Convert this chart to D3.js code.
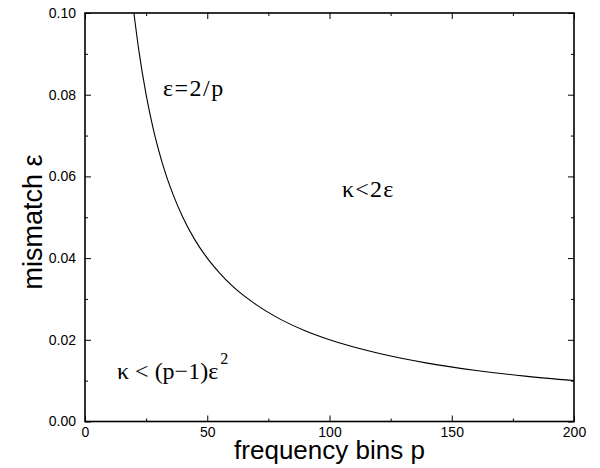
<!DOCTYPE html>
<html>
<head>
<meta charset="utf-8">
<script src="https://cdn.jsdelivr.net/npm/d3@7"></script>
<style>
  body { margin: 0; background: #fff; }
  svg { display: block; }
</style>
</head>
<body>
<div id="chart"></div>
<script>
// values
const pValues = [20, 22, 25, 28, 30, 33, 36, 40, 45, 50, 55, 60, 70, 80, 90, 100, 120, 140, 160, 180, 200];
const epsValues = [0.1, 0.0909, 0.08, 0.0714, 0.0667, 0.0606, 0.0556, 0.05, 0.0444, 0.04, 0.0364, 0.0333,
  0.0286, 0.025, 0.0222, 0.02, 0.0167, 0.0143, 0.0125, 0.0111, 0.01];
const xMajor = [0, 50, 100, 150, 200];
const xMinor = [25, 75, 125, 175];
const yMajor = [0, 0.02, 0.04, 0.06, 0.08, 0.1];
const yMinor = [0.01, 0.03, 0.05, 0.07, 0.09];

const width = 600, height = 468;
const margins = { top: 13, right: 26, bottom: 46.5, left: 85 };

const svg = d3.select("#chart").append("svg")
  .attr("width", width)
  .attr("height", height);

const x = d3.scaleLinear().domain([0, 200])
  .range([margins.left, width - margins.right]);
const y = d3.scaleLinear().domain([0, 0.1])
  .range([height - margins.bottom, margins.top]);

const fmt = d3.format(".2f");
const sans = "'Liberation Sans', Arial, sans-serif";
const serif = "'Liberation Serif', 'Times New Roman', serif";

// axes with inward ticks, mirrored on top and right
function ticks(axis, vals, size) {
  return axis.tickValues(vals).tickSizeInner(-size).tickSizeOuter(0).tickFormat("");
}

const g = svg.append("g");

g.append("g").attr("transform", `translate(0,${y(0)})`)
  .call(ticks(d3.axisBottom(x), xMinor, 3));
g.append("g").attr("transform", `translate(0,${y(0)})`)
  .call(ticks(d3.axisBottom(x), xMajor, 6).tickPadding(6).tickFormat(d3.format("d")));
g.append("g").attr("transform", `translate(0,${y(0.1)})`)
  .call(ticks(d3.axisTop(x), xMinor, 3));
g.append("g").attr("transform", `translate(0,${y(0.1)})`)
  .call(ticks(d3.axisTop(x), xMajor, 6));

g.append("g").attr("transform", `translate(${x(0)},0)`)
  .call(ticks(d3.axisLeft(y), yMinor, 3));
g.append("g").attr("transform", `translate(${x(0)},0)`)
  .call(ticks(d3.axisLeft(y), yMajor, 6).tickPadding(9).tickFormat(fmt));
g.append("g").attr("transform", `translate(${x(200)},0)`)
  .call(ticks(d3.axisRight(y), yMinor, 3));
g.append("g").attr("transform", `translate(${x(200)},0)`)
  .call(ticks(d3.axisRight(y), yMajor, 6));

g.selectAll(".domain").remove();
g.selectAll(".tick line").attr("stroke", "#000").attr("stroke-width", 1);
g.selectAll(".tick text")
  .attr("fill", "#000")
  .style("font-family", sans)
  .style("font-size", "14px");

// frame
svg.append("rect")
  .attr("x", x(0)).attr("y", y(0.1))
  .attr("width", x(200) - x(0)).attr("height", y(0) - y(0.1))
  .attr("fill", "none").attr("stroke", "#000").attr("stroke-width", 1.6);

// curve eps = 2/p
const line = d3.line()
  .x((d, i) => x(pValues[i]))
  .y(d => y(d))
  .curve(d3.curveMonotoneX);

svg.append("path")
  .datum(epsValues)
  .attr("d", line)
  .attr("fill", "none")
  .attr("stroke", "#000")
  .attr("stroke-width", 1.1);

// axis titles
svg.append("text")
  .attr("x", x(100)).attr("y", 459)
  .attr("text-anchor", "middle")
  .style("font-family", sans)
  .style("font-size", "26px")
  .text("frequency bins p");

svg.append("text")
  .attr("transform", `translate(42,222) rotate(-90)`)
  .attr("text-anchor", "middle")
  .style("font-family", sans)
  .style("font-size", "27px")
  .text("mismatch ε");

// region labels
svg.append("text")
  .attr("x", 163).attr("y", 96)
  .style("font-family", serif).style("font-size", "24px")
  .style("letter-spacing", "1.5px")
  .text("ε=2/p");

svg.append("text")
  .attr("x", 342).attr("y", 197)
  .style("font-family", serif).style("font-size", "24px")
  .style("letter-spacing", "1.2px")
  .text("κ<2ε");

const t3 = svg.append("text")
  .attr("x", 117).attr("y", 379)
  .style("font-family", serif).style("font-size", "24px");
t3.append("tspan").text("κ < (p−1)ε");
t3.append("tspan").attr("dx", 2).attr("dy", -15).style("font-size", "16px").text("2");
</script>
</body>
</html>
